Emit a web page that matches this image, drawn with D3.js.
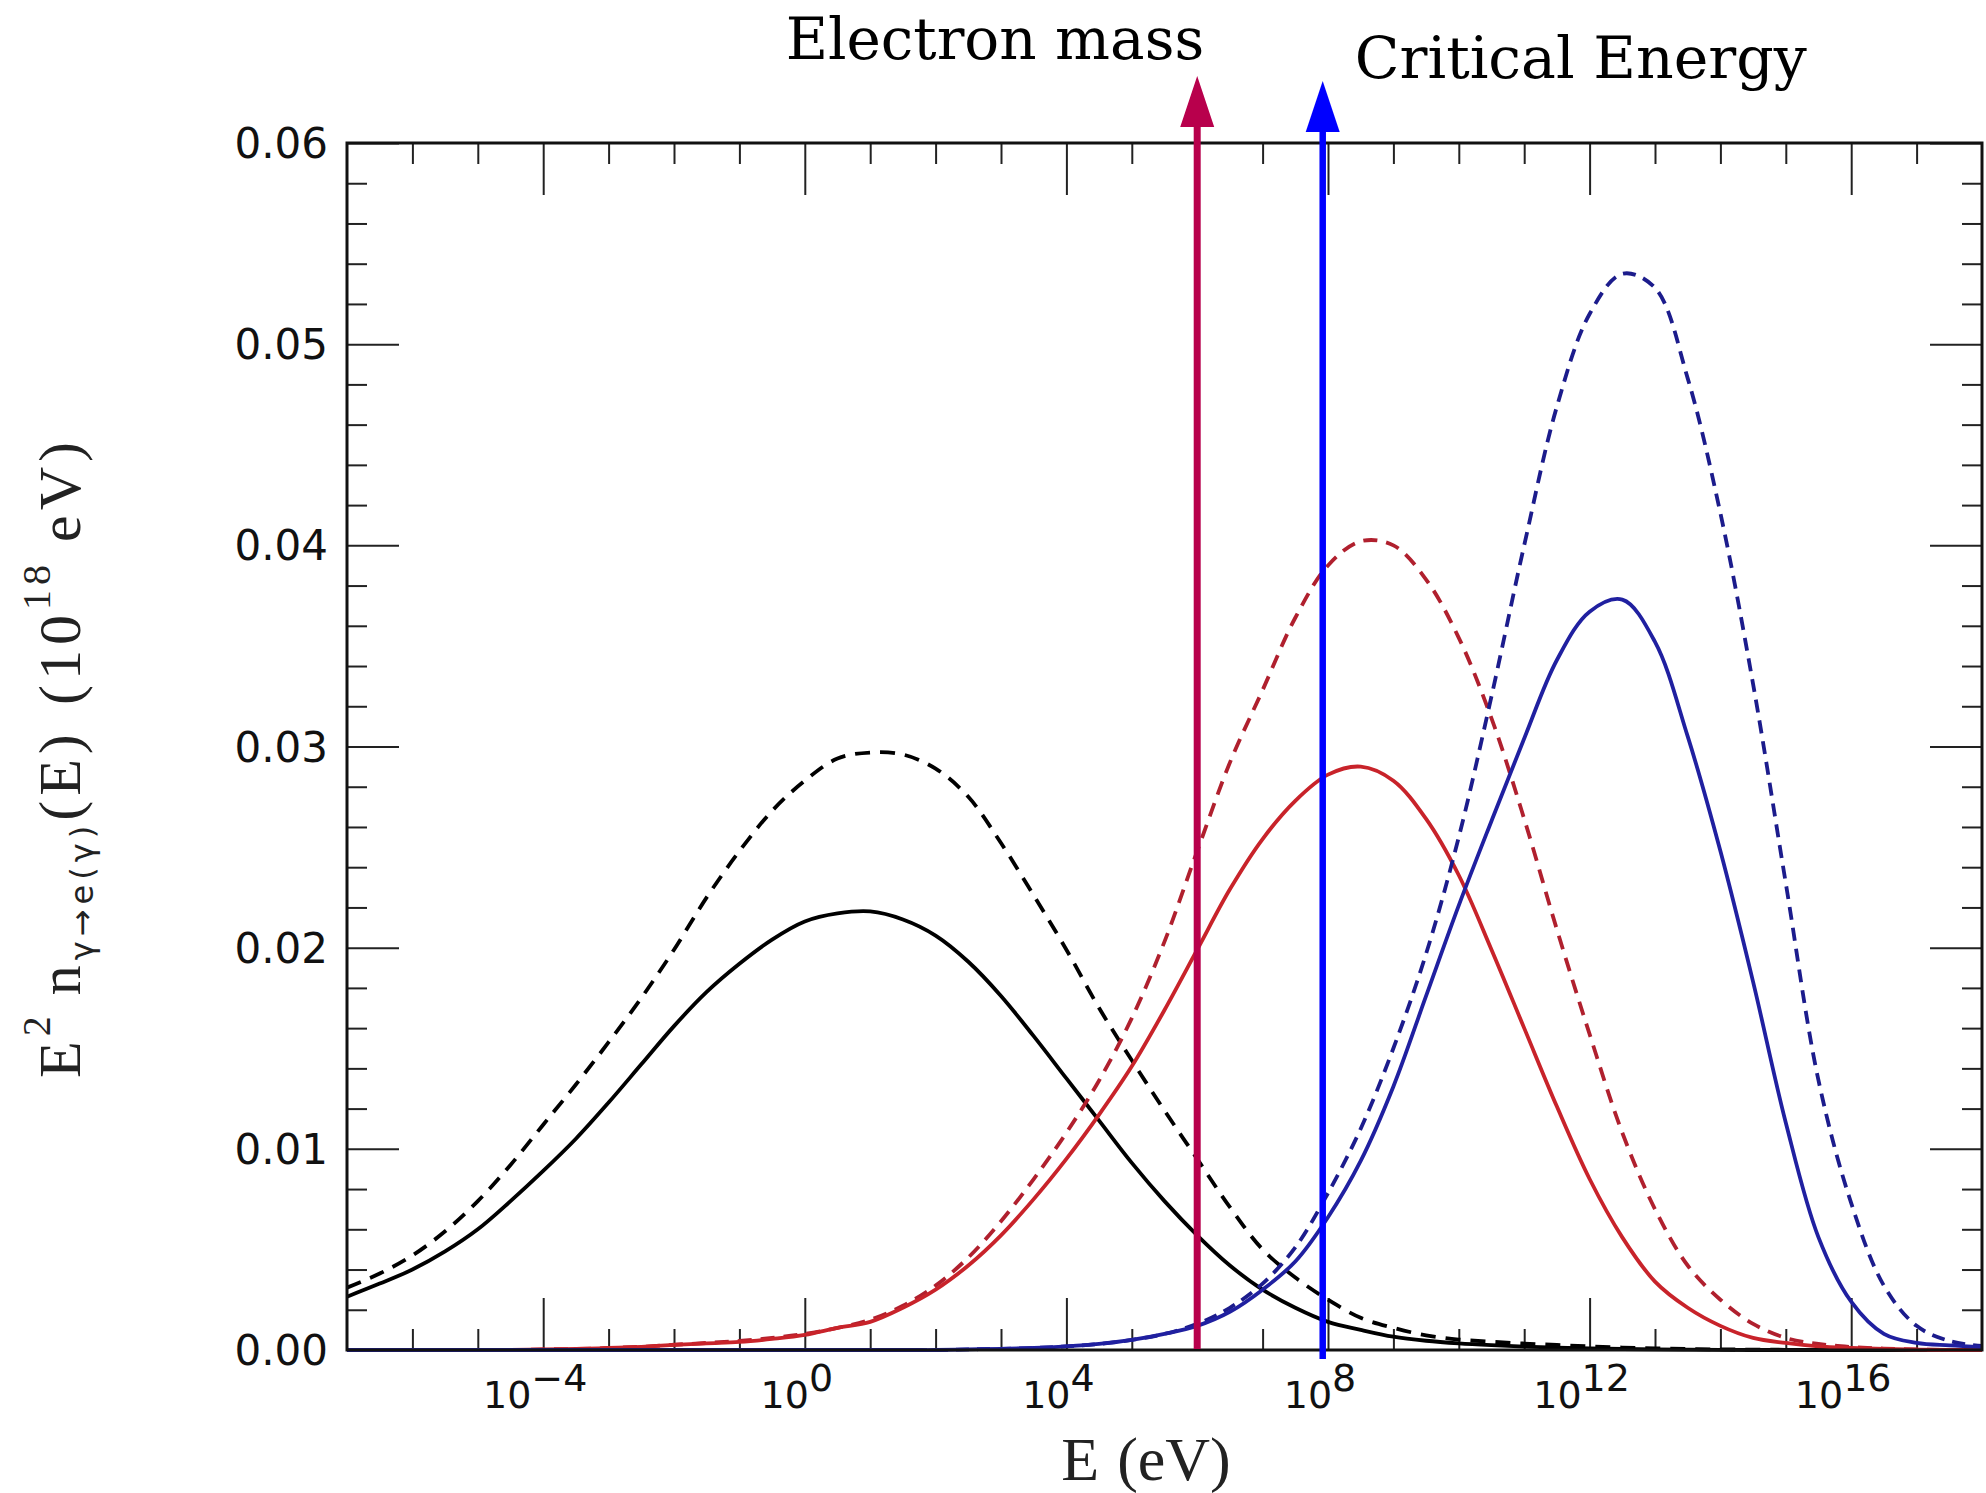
<!DOCTYPE html>
<html>
<head>
<meta charset="utf-8">
<script src="https://cdn.jsdelivr.net/npm/d3@7"></script>
<style>
  body { margin: 0; background: #fff; }
  svg { display: block; }
</style>
</head>
<body>
<svg id="chart" width="1986" height="1493"></svg>
<script>
// Data (log10 of E in eV, values in 10^18 eV)
let logE = [-7, -6.5, -6, -5.5, -5, -4.5, -4, -3.5, -3, -2.5, -2, -1.5, -1, -0.5, 0, 0.5, 1, 1.5, 2, 2.5,
  3, 3.5, 4, 4.5, 5, 5.5, 6, 6.5, 7, 7.5, 8, 8.5, 9, 9.5, 10, 10.5, 11, 11.5, 12, 12.5,
  13, 13.5, 14, 14.5, 15, 15.5, 16, 16.5, 17, 17.5, 18]

let blackSolid = [0.00265, 0.0033, 0.0040, 0.0049, 0.0060, 0.0074, 0.0089, 0.0105, 0.0123, 0.0142,
  0.0161, 0.0178, 0.0192, 0.0204, 0.0213, 0.0217, 0.0218, 0.0214, 0.0206, 0.0193,
  0.0176, 0.0156, 0.0135, 0.0114, 0.0093, 0.0074, 0.0057, 0.0042, 0.0030, 0.0021,
  0.0014, 0.0010, 0.00066, 0.00046, 0.00033, 0.00024, 0.00017, 0.00012, 0.00008, 0.00005,
  0.00003, 0.00002, 0.00001, 0, 0, 0, 0, 0, 0, 0, 0]

let blackDashed = [0.0031, 0.0038, 0.0047, 0.0059, 0.0074, 0.0092, 0.0112, 0.0132, 0.0153, 0.0175,
  0.0199, 0.0225, 0.0248, 0.0268, 0.0283, 0.0294, 0.0297, 0.0296, 0.0289, 0.0275,
  0.0252, 0.0226, 0.0199, 0.0170, 0.0144, 0.0119, 0.0095, 0.0071, 0.0050, 0.0036,
  0.0025, 0.0016, 0.0011, 0.00073, 0.00052, 0.00041, 0.00032, 0.00025, 0.00018, 0.00012,
  0.00008, 0.00005, 0.00003, 0.00002, 0.00001, 0, 0, 0, 0, 0, 0]

let redSolid = [0, 0, 0, 0, 0, 0, 0.00003, 0.00005, 0.0001, 0.00016,
  0.00025, 0.00033, 0.0004, 0.00055, 0.00075, 0.0011, 0.0014, 0.0021, 0.0030, 0.0042,
  0.0057, 0.0075, 0.0095, 0.0117, 0.0141, 0.0169, 0.0199, 0.0229, 0.0254, 0.0273,
  0.0286, 0.0290, 0.0283, 0.0264, 0.0236, 0.0199, 0.0160, 0.0121, 0.0085, 0.0056,
  0.0034, 0.0021, 0.0012, 0.0006, 0.00035, 0.00018, 0.0001, 0.00005, 0.00002, 0, 0]

let redDashed = [0, 0, 0, 0, 0, 0, 0.00003, 0.00005, 0.0001, 0.00016,
  0.00026, 0.00035, 0.00045, 0.0006, 0.0008, 0.0011, 0.0015, 0.0022, 0.0032, 0.0046,
  0.0064, 0.0085, 0.0108, 0.0134, 0.0165, 0.0203, 0.0248, 0.0292, 0.0328, 0.0364,
  0.0390, 0.0402, 0.0400, 0.0383, 0.0354, 0.0314, 0.0264, 0.0209, 0.0157, 0.0108,
  0.0070, 0.0042, 0.0025, 0.0013, 0.0006, 0.0003, 0.00015, 0.00007, 0.00003, 0, 0]

let blueSolid = [0, 0, 0, 0, 0, 0, 0, 0, 0, 0,
  0, 0, 0, 0, 0, 0, 0, 0, 0, 0.00003,
  0.00006, 0.0001, 0.00018, 0.0003, 0.0005, 0.0008, 0.0012, 0.0019, 0.0030, 0.0044,
  0.0066, 0.0094, 0.0131, 0.0176, 0.0221, 0.0263, 0.0304, 0.0343, 0.0367, 0.0373,
  0.0352, 0.0305, 0.0248, 0.0183, 0.0113, 0.0056, 0.0024, 0.0008, 0.00035, 0.00023, 0.00015]

let blueDashed = [0, 0, 0, 0, 0, 0, 0, 0, 0, 0,
  0, 0, 0, 0, 0, 0, 0, 0, 0, 0.00003,
  0.00006, 0.0001, 0.00018, 0.0003, 0.0005, 0.0008, 0.0013, 0.0021, 0.0033, 0.0051,
  0.0078, 0.0110, 0.0150, 0.0197, 0.0255, 0.0325, 0.0400, 0.0469, 0.0515, 0.0535,
  0.0528, 0.0483, 0.0416, 0.0331, 0.0232, 0.0134, 0.0073, 0.0032, 0.0012, 0.00045, 0.0002]

let yTicks = [0, 0.01, 0.02, 0.03, 0.04, 0.05, 0.06]
let xLabelExp = [-4, 0, 4, 8, 12, 16]
let markerLabels = ["Electron mass", "Critical Energy"]
let markerE = [1e6, 8.3e7]

// Scales
let x = d3.scaleLog().domain([1e-7, 1e18]).range([347, 1982])
let y = d3.scaleLinear().domain([0, 0.06]).range([1350, 143])

let svg = d3.select("#chart")
svg.append("rect").attr("width", 1986).attr("height", 1493).attr("fill", "#fff")

svg.append("clipPath").attr("id", "plot")
  .append("rect")
  .attr("x", x(1e-7)).attr("y", y(0.06) - 10)
  .attr("width", x(1e18) - x(1e-7)).attr("height", y(0) - y(0.06) + 20)

// Ticks
let decades = d3.range(-6, 18).map(k => Math.pow(10, k))
let xMajor = decades.filter((v, i) => xLabelExp.includes(i - 6))
let xMinor = decades.filter((v, i) => !xLabelExp.includes(i - 6))
let yAll = d3.range(0, 31).map(i => i * 0.002)
let yMinor = yAll.filter((v, i) => i % 5 !== 0)

let tickStyle = g => {
  g.select(".domain").remove()
  g.selectAll(".tick line").attr("stroke", "#222").attr("stroke-width", 2)
}

let addAxis = (axis, tr) => svg.append("g").attr("transform", tr).call(axis).call(tickStyle)

addAxis(d3.axisBottom(x).tickValues(xMinor).tickSize(-21).tickFormat(""), `translate(0,${y(0)})`)
addAxis(d3.axisBottom(x).tickValues(xMajor).tickSize(-52).tickFormat(""), `translate(0,${y(0)})`)
addAxis(d3.axisTop(x).tickValues(xMinor).tickSize(-21).tickFormat(""), `translate(0,${y(0.06)})`)
addAxis(d3.axisTop(x).tickValues(xMajor).tickSize(-52).tickFormat(""), `translate(0,${y(0.06)})`)
addAxis(d3.axisLeft(y).tickValues(yMinor).tickSize(-20).tickFormat(""), `translate(${x(1e-7)},0)`)
addAxis(d3.axisLeft(y).tickValues(yTicks).tickSize(-52).tickFormat(""), `translate(${x(1e-7)},0)`)
addAxis(d3.axisRight(y).tickValues(yMinor).tickSize(-20).tickFormat(""), `translate(${x(1e18)},0)`)
addAxis(d3.axisRight(y).tickValues(yTicks).tickSize(-52).tickFormat(""), `translate(${x(1e18)},0)`)

// Tick labels
svg.append("g").selectAll("text").data(yTicks).join("text")
  .attr("x", x(1e-7) - 19)
  .attr("y", d => y(d) + 15)
  .attr("text-anchor", "end")
  .style("font-family", "DejaVu Sans")
  .style("font-size", "42px")
  .attr("fill", "#111")
  .text(d3.format(".2f"))

let xl = svg.append("g").selectAll("text").data(xLabelExp).join("text")
  .attr("x", d => x(Math.pow(10, d)) - 8)
  .attr("y", 1408)
  .attr("text-anchor", "middle")
  .style("font-family", "DejaVu Sans")
  .style("font-size", "38px")
  .attr("fill", "#111")
xl.append("tspan").text("10")
xl.append("tspan").attr("dy", -17).text(d => d < 0 ? "\u2212" + (-d) : d)

// Curves
let line = vals => d3.line()
  .x((d, i) => x(Math.pow(10, logE[i])))
  .y(d => y(d))
  .curve(d3.curveCatmullRom.alpha(0.5))(vals)

let series = [
  {vals: blackDashed, color: "#000", dash: "15,10"},
  {vals: blackSolid, color: "#000", dash: null},
  {vals: redDashed, color: "#b0202e", dash: "14,9"},
  {vals: redSolid, color: "#c8232a", dash: null},
  {vals: blueDashed, color: "#1c1c8c", dash: "13,8"},
  {vals: blueSolid, color: "#2020a0", dash: null}
]

svg.append("g").attr("clip-path", "url(#plot)")
  .selectAll("path").data(series).join("path")
  .attr("d", d => line(d.vals))
  .attr("fill", "none")
  .attr("stroke", d => d.color)
  .attr("stroke-width", 3.8)
  .attr("stroke-dasharray", d => d.dash)

// Frame
svg.append("rect")
  .attr("x", x(1e-7)).attr("y", y(0.06))
  .attr("width", x(1e18) - x(1e-7)).attr("height", y(0) - y(0.06))
  .attr("fill", "none").attr("stroke", "#111").attr("stroke-width", 3)

// Arrows
let arrowColors = ["#b8004c", "#0000ff"]
let arrowTips = [76, 81]
let arrowBottoms = [y(0) - 1, y(0) + 9]
markerE.forEach((e, i) => {
  let ax = x(e)
  svg.append("line")
    .attr("x1", ax).attr("x2", ax)
    .attr("y1", arrowBottoms[i]).attr("y2", arrowTips[i] + 45)
    .attr("stroke", arrowColors[i]).attr("stroke-width", i === 0 ? 7 : 6.5)
  svg.append("path")
    .attr("d", `M${ax},${arrowTips[i]} L${ax - 17},${arrowTips[i] + 51} L${ax + 17},${arrowTips[i] + 51} Z`)
    .attr("fill", arrowColors[i])
})

svg.append("text")
  .attr("x", x(markerE[0]) + 7).attr("y", 59)
  .attr("text-anchor", "end")
  .style("font-family", "DejaVu Serif").style("font-size", "58px")
  .text(markerLabels[0])

svg.append("text")
  .attr("x", x(markerE[1]) + 32).attr("y", 78)
  .attr("text-anchor", "start")
  .style("font-family", "DejaVu Serif").style("font-size", "58.5px")
  .text(markerLabels[1])

// Axis titles
let xt = svg.append("text")
  .attr("x", 1146).attr("y", 1480)
  .attr("text-anchor", "middle")
  .style("font-family", "Liberation Serif").style("font-size", "62px")
  .attr("fill", "#222")
xt.append("tspan").text("E")
xt.append("tspan").attr("dx", 18).text("(eV)")

let yt = svg.append("text")
  .attr("transform", "translate(80,760) rotate(-90)")
  .attr("text-anchor", "middle")
  .attr("textLength", 636)
  .attr("lengthAdjust", "spacing")
  .style("font-family", "Liberation Serif").style("font-size", "60px")
  .attr("fill", "#222")
yt.append("tspan").text("E")
yt.append("tspan").attr("dy", -30).style("font-size", "40px").text("2")
yt.append("tspan").attr("dy", 30).attr("dx", 16).text("n")
yt.append("tspan").attr("dy", 13).style("font-size", "32px").style("font-family", "DejaVu Sans").text("\u03b3\u2192e(\u03b3)")
yt.append("tspan").attr("dy", -13).text("(E)")
yt.append("tspan").attr("dx", 24).text("(10")
yt.append("tspan").attr("dy", -30).style("font-size", "40px").text("18")
yt.append("tspan").attr("dy", 30).attr("dx", 18).text("eV)")
</script>
</body>
</html>
